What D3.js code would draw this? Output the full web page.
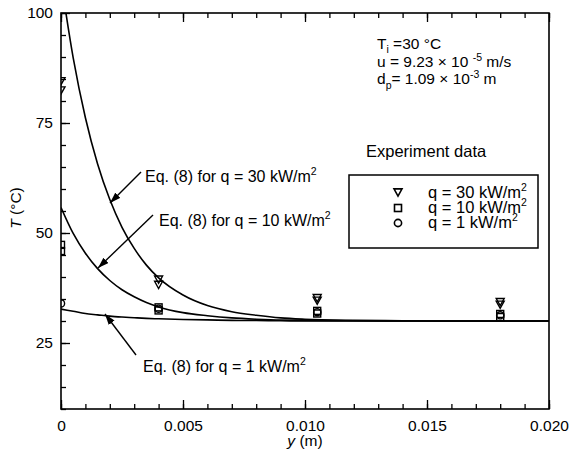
<!DOCTYPE html>
<html>
<head>
<meta charset="utf-8">
<script src="https://cdn.jsdelivr.net/npm/d3@7"></script>
<style>
  body { margin: 0; background: #fff; }
  svg { display: block; font-family: "Liberation Sans", Arial, Helvetica, sans-serif; }
</style>
</head>
<body>
<svg id="chart" width="569" height="452"></svg>
<script>
// ---- measured temperatures (°C) at distance y (m) from the heated wall ----
const q30Y = [0, 0, 0.004, 0.004, 0.0105, 0.0105, 0.018, 0.018];
const q30T = [84.5, 82.4, 39.4, 38.2, 35.2, 34.6, 34.3, 33.7];
const q10Y = [0, 0, 0.004, 0.004, 0.0105, 0.0105, 0.018, 0.018];
const q10T = [47.3, 45.9, 33.1, 32.4, 32.3, 31.7, 31.6, 30.9];
const q1Y  = [0, 0.004, 0.0105, 0.018];
const q1T  = [34.0, 32.8, 32.0, 31.3];

// ---- Eq. (8) predictions, sampled along y ----
const eqY   = [0, 0.0005, 0.001, 0.0015, 0.002, 0.0025, 0.003, 0.0035, 0.004, 0.005, 0.006, 0.007, 0.008, 0.009, 0.010, 0.012, 0.014, 0.016, 0.020];
const eq30T = [107.4, 89.8, 76.2, 65.7, 57.6, 51.3, 46.5, 42.7, 39.8, 35.9, 33.5, 32.1, 31.3, 30.7, 30.4, 30.15, 30.05, 30.0, 30.0];
const eq10T = [55.8, 49.9, 45.4, 41.9, 39.2, 37.1, 35.5, 34.2, 33.2, 31.9, 31.2, 30.7, 30.4, 30.2, 30.15, 30.05, 30.0, 30.0, 30.0];
const eq1T  = [32.7, 32.2, 31.7, 31.4, 31.1, 30.9, 30.75, 30.6, 30.5, 30.35, 30.25, 30.15, 30.1, 30.05, 30.0, 30.0, 30.0, 30.0, 30.0];

// ---- axis ticks ----
const xMajor = [0, 0.005, 0.010, 0.015, 0.020];
const xMajorLabels = ["0", "0.005", "0.010", "0.015", "0.020"];
const yMajor = [25, 50, 75, 100];

const svg = d3.select("#chart");
const plotL = 61, plotR = 549, plotT = 13, plotB = 409;

const x = d3.scaleLinear().domain([0, 0.02]).range([plotL, plotR]);
const y = d3.scaleLinear().domain([10, 100]).range([plotB, plotT]);

const xMinor = d3.range(0, 0.0201, 0.001).map(v => +v.toFixed(4));
const yMinor = d3.range(10, 100.1, 5);

// clip for the plotting region
const defs = svg.append("defs");
defs.append("clipPath").attr("id", "plotClip")
  .append("rect").attr("x", plotL).attr("y", plotT)
  .attr("width", plotR - plotL).attr("height", plotB - plotT);

// arrowhead
defs.append("marker")
  .attr("id", "arrow").attr("markerUnits", "userSpaceOnUse")
  .attr("viewBox", "0 -4 11 8").attr("refX", 11).attr("refY", 0)
  .attr("markerWidth", 11).attr("markerHeight", 8).attr("orient", "auto")
  .append("path").attr("d", "M0,-3.6L11,0L0,3.6Z").attr("fill", "#000");

const tickFont = "15.5px";

function styleAxis(g) {
  g.select(".domain").remove();
  g.selectAll(".tick line").attr("stroke", "#000").attr("stroke-width", 1.3);
  g.selectAll("text").attr("fill", "#000").style("font-size", tickFont);
}

// bottom axis: minor + major, inward ticks
svg.append("g").attr("transform", `translate(0,${plotB})`)
  .call(d3.axisBottom(x).tickValues(xMinor).tickSize(-5).tickFormat(""))
  .call(styleAxis);
svg.append("g").attr("transform", `translate(0,${plotB})`)
  .call(d3.axisBottom(x).tickValues(xMajor).tickSize(-9).tickPadding(11)
    .tickFormat((d, i) => xMajorLabels[i]))
  .call(styleAxis);

// top axis: ticks only
svg.append("g").attr("transform", `translate(0,${plotT})`)
  .call(d3.axisTop(x).tickValues(xMinor).tickSize(-5).tickFormat(""))
  .call(styleAxis);
svg.append("g").attr("transform", `translate(0,${plotT})`)
  .call(d3.axisTop(x).tickValues(xMajor).tickSize(-9).tickFormat(""))
  .call(styleAxis);

// left axis
svg.append("g").attr("transform", `translate(${plotL},0)`)
  .call(d3.axisLeft(y).tickValues(yMinor).tickSize(-5).tickFormat(""))
  .call(styleAxis);
svg.append("g").attr("transform", `translate(${plotL},0)`)
  .call(d3.axisLeft(y).tickValues(yMajor).tickSize(-9).tickPadding(8).tickFormat(d3.format("d")))
  .call(styleAxis);

// frame
svg.append("rect").attr("x", plotL).attr("y", plotT)
  .attr("width", plotR - plotL).attr("height", plotB - plotT)
  .attr("fill", "none").attr("stroke", "#000").attr("stroke-width", 1.6);

// model curves
const line = d3.line().x(d => x(d[0])).y(d => y(d[1])).curve(d3.curveMonotoneX);
const curves = svg.append("g").attr("clip-path", "url(#plotClip)");
[eq30T, eq10T, eq1T].forEach(ts => {
  curves.append("path")
    .datum(eqY.map((v, i) => [v, ts[i]]))
    .attr("d", line)
    .attr("fill", "none").attr("stroke", "#000").attr("stroke-width", 1.6);
});

// experiment symbols
const sym = 7;
function triDown(cx, cy, s) {
  const h = s * 0.9;
  return `M${cx - s / 2},${cy - h / 2}L${cx + s / 2},${cy - h / 2}L${cx},${cy + h / 2}Z`;
}
const pts = svg.append("g").attr("clip-path", "url(#plotClip)")
  .attr("fill", "none").attr("stroke", "#000").attr("stroke-width", 1.4);

pts.selectAll(".tri").data(q30Y.map((v, i) => [v, q30T[i]])).join("path")
  .attr("class", "tri")
  .attr("d", d => triDown(x(d[0]), y(d[1]), 8));
pts.selectAll(".sq").data(q10Y.map((v, i) => [v, q10T[i]])).join("rect")
  .attr("class", "sq")
  .attr("x", d => x(d[0]) - sym / 2).attr("y", d => y(d[1]) - sym / 2)
  .attr("width", sym).attr("height", sym);
pts.selectAll(".ci").data(q1Y.map((v, i) => [v, q1T[i]])).join("circle")
  .attr("class", "ci")
  .attr("cx", d => x(d[0])).attr("cy", d => y(d[1])).attr("r", 3.6);

// axis titles
svg.append("text")
  .attr("transform", `translate(21,208) rotate(-90)`)
  .attr("text-anchor", "middle").style("font-size", "15.5px")
  .call(t => {
    t.append("tspan").style("font-style", "italic").text("T");
    t.append("tspan").text(" (°C)");
  });
svg.append("text")
  .attr("x", (plotL + plotR) / 2).attr("y", 446)
  .attr("text-anchor", "middle").style("font-size", "15.5px")
  .call(t => {
    t.append("tspan").style("font-style", "italic").text("y");
    t.append("tspan").text(" (m)");
  });

// curve annotations
function eqLabel(tx, ty, q) {
  const t = svg.append("text").attr("x", tx).attr("y", ty).style("font-size", "16px");
  t.append("tspan").text(`Eq. (8) for q = ${q} kW/m`);
  t.append("tspan").attr("dy", -7).style("font-size", "10.5px").text("2");
}
function arrow(x1, y1, x2, y2) {
  svg.append("line").attr("x1", x1).attr("y1", y1).attr("x2", x2).attr("y2", y2)
    .attr("stroke", "#000").attr("stroke-width", 1.4).attr("marker-end", "url(#arrow)");
}
eqLabel(145, 182, 30);
arrow(141, 172, 110, 203);
eqLabel(159, 226, 10);
arrow(153, 215, 98, 268);
eqLabel(143, 372, 1);
arrow(136, 355, 105, 314);

// operating conditions
const cond = svg.append("g").style("font-size", "15.5px");
cond.append("text").attr("x", 377).attr("y", 49)
  .call(t => {
    t.append("tspan").text("T");
    t.append("tspan").attr("dy", 4).style("font-size", "10.5px").text("i");
    t.append("tspan").attr("dy", -4).text(" =30 °C");
  });
cond.append("text").attr("x", 377).attr("y", 67)
  .call(t => {
    t.append("tspan").text("u = 9.23 × 10 ");
    t.append("tspan").attr("dy", -6).style("font-size", "10.5px").text("-5");
    t.append("tspan").attr("dy", 6).text(" m/s");
  });
cond.append("text").attr("x", 377).attr("y", 84)
  .call(t => {
    t.append("tspan").text("d");
    t.append("tspan").attr("dy", 5).style("font-size", "10.5px").text("p");
    t.append("tspan").attr("dy", -5).text("= 1.09 × 10");
    t.append("tspan").attr("dy", -6).style("font-size", "10.5px").text("-3");
    t.append("tspan").attr("dy", 6).text(" m");
  });

// legend
svg.append("text").attr("x", 366).attr("y", 157).style("font-size", "16.5px").text("Experiment data");
svg.append("rect").attr("x", 349).attr("y", 175).attr("width", 189).attr("height", 73)
  .attr("fill", "none").attr("stroke", "#000").attr("stroke-width", 1.5);

const legendRows = [
  { q: 30, cy: 192.5 },
  { q: 10, cy: 208 },
  { q: 1, cy: 223 }
];
const lg = svg.append("g");
const lx = 398;
lg.append("path").attr("d", triDown(lx, legendRows[0].cy, 8))
  .attr("fill", "none").attr("stroke", "#000").attr("stroke-width", 1.6);
lg.append("rect").attr("x", lx - 3.5).attr("y", legendRows[1].cy - 3.5).attr("width", 7).attr("height", 7)
  .attr("fill", "none").attr("stroke", "#000").attr("stroke-width", 1.6);
lg.append("circle").attr("cx", lx).attr("cy", legendRows[2].cy).attr("r", 3.6)
  .attr("fill", "none").attr("stroke", "#000").attr("stroke-width", 1.6);
legendRows.forEach(r => {
  const t = lg.append("text").attr("x", 428).attr("y", r.cy + 5).style("font-size", "16.5px");
  t.append("tspan").text(`q = ${r.q} kW/m`);
  t.append("tspan").attr("dy", -7).style("font-size", "10.5px").text("2");
});
</script>
</body>
</html>
